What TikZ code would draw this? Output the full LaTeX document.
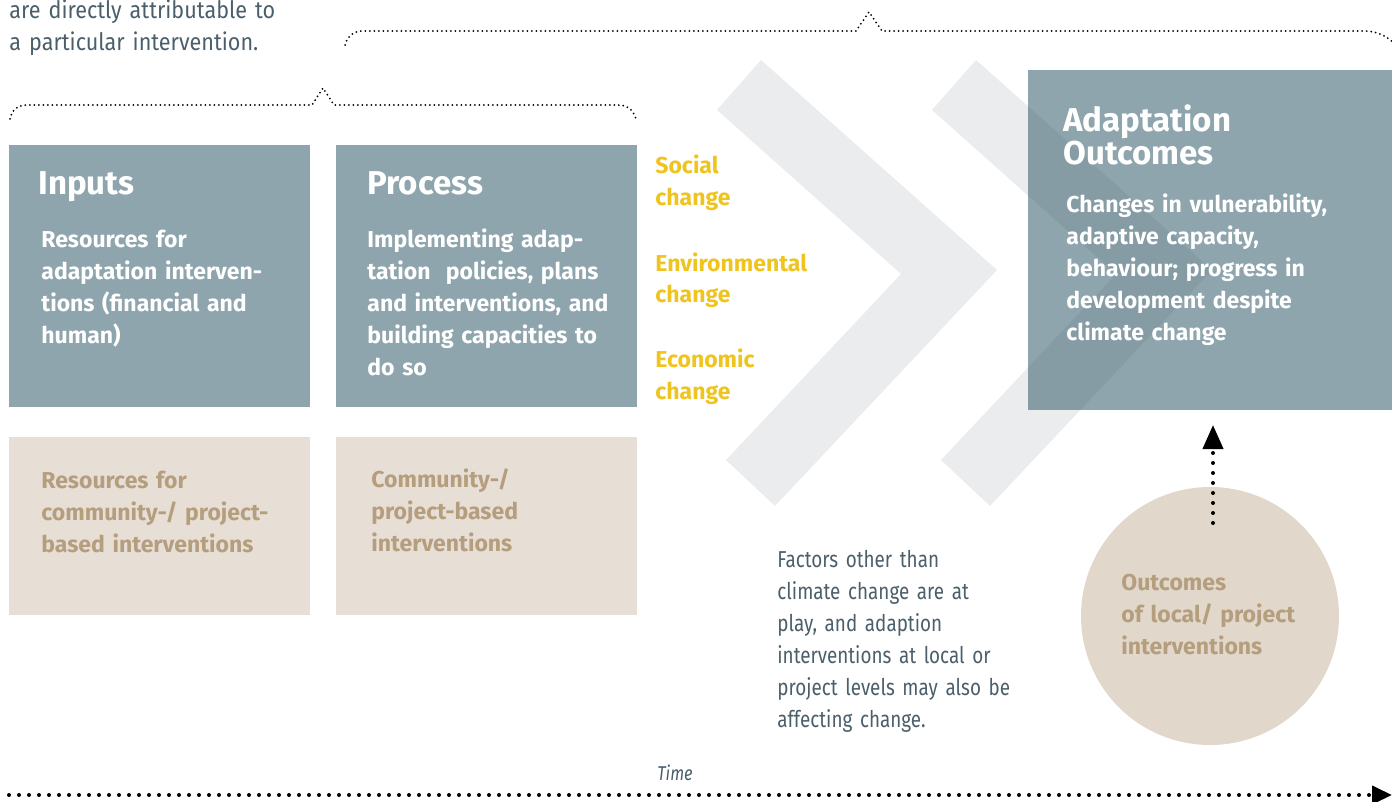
\documentclass[tikz,border=0pt]{standalone}
\usepackage{fontspec}
\setmainfont{Fira Sans}
\newfontfamily\notefont{Fira Sans}[FakeStretch=0.82]
\newfontfamily\attribfont{Fira Sans}[FakeStretch=0.9]
\usetikzlibrary{arrows.meta}

\definecolor{slate}{HTML}{4B5F6B}
\definecolor{boxgrey}{HTML}{8FA5AD}
\definecolor{boxdeep}{HTML}{335B6A}
\definecolor{sand}{HTML}{E7DFD6}
\definecolor{sandtext}{HTML}{B59E7E}
\definecolor{sandcircle}{HTML}{E1D7CB}
\definecolor{amber}{HTML}{EFC41E}
\definecolor{chevgrey}{HTML}{EBECEE}

\tikzset{
  greybox/.style={fill=boxgrey, inner sep=0pt, anchor=north west,
    minimum width=150.5pt, minimum height=131pt},
  sandbox/.style={fill=sand, inner sep=0pt, anchor=north west,
    minimum width=150.5pt, minimum height=89pt},
  boxhead/.style={anchor=base west, inner sep=0pt, text=white, align=left,
    text width=200pt, font=\fontsize{16.5}{14.5}\selectfont\bfseries},
  boxbody/.style={anchor=base west, inner sep=0pt, text=white, align=left,
    text width=220pt, font=\fontsize{11.5}{16}\selectfont\bfseries},
  sandbody/.style={boxbody, text=sandtext},
  changelabel/.style={boxbody, text=amber},
  note/.style={anchor=base west, inner sep=0pt, text=slate, align=left,
    text width=220pt, font=\notefont\fontsize{11.5}{16}\selectfont},
  smalldots/.style={line width=1pt, line cap=round, dash pattern=on 0pt off 2.25pt},
  bigdots/.style={line width=2pt, line cap=round, dash pattern=on 0pt off 5pt}
}

\begin{document}
\begin{tikzpicture}[x=0.5pt, y=-0.5pt]
  \useasboundingbox (0,0) rectangle (1392,802);

  % chevrons behind the outcome box
  \foreach \dx in {0,215}
    \fill[chevgrey] ({761+\dx},60) -- ({997+\dx},270) -- ({775+\dx},506)
      -- ({726+\dx},460) -- ({901+\dx},274) -- ({717+\dx},110) -- cycle;

  % boxes
  \node[greybox] (inputs) at (9,145) {};
  \node[greybox] (process) at (336,145) {};
  \node[sandbox] (inputslocal) at (9,437) {};
  \node[sandbox] (processlocal) at (336,437) {};
  \node[fill=boxdeep, fill opacity=0.55, inner sep=0pt, anchor=north west,
    minimum width=190pt, minimum height=170pt] (outcomes) at (1028,70) {};
  \node[circle, fill=sandcircle, inner sep=0pt, minimum size=129pt] (localout) at (1210,616) {};

  % texts
  \node[note, font=\attribfont\fontsize{12}{16}\selectfont] (attrib) at (9,19)
    {are directly attributable to\\a particular intervention.};
  \node[boxhead] (inputshead) at (38,195) {Inputs};
  \node[boxbody] (inputstext) at (41,248)
    {Resources for\\adaptation interven-\\tions (financial and\\human)};
  \node[boxhead] (processhead) at (367,195) {Process};
  \node[boxbody] (processtext) at (367,248)
    {Implementing adap-\\tation~ policies, plans\\and interventions, and\\building capacities to\\do so};
  \node[sandbody] (inputslocaltext) at (41,488)
    {Resources for\\community-/ project-\\based interventions};
  \node[sandbody] (processlocaltext) at (371,487)
    {Community-/\\project-based\\interventions};
  \node[changelabel] (social) at (655,174) {Social\\change};
  \node[changelabel] (environ) at (655,271) {Environmental\\change};
  \node[changelabel] (economic) at (655,367) {Economic\\change};
  \node[boxhead] (outcomeshead) at (1063,132) {Adaptation\\Outcomes};
  \node[boxbody] (outcomestext) at (1066,213)
    {Changes in vulnerability,\\adaptive capacity,\\behaviour; progress in\\development despite\\climate change};
  \node[note] (factors) at (777,567)
    {Factors other than\\climate change are at\\play, and adaption\\interventions at local or\\project levels may also be\\affecting change.};
  \node[sandbody] (localouttext) at (1121,590)
    {Outcomes\\of local/ project\\interventions};
  \node[anchor=base, inner sep=0pt, text=slate, font=\notefont\fontsize{10}{12}\selectfont\itshape] (time) at (675,780) {Time};

  % braces
  \draw[smalldots] (10,119) .. controls (12,109) and (18,105) .. (28,105)
    -- (312,105) -- (323,88) -- (334,105) -- (617,105)
    .. controls (627,105) and (633,109) .. (636,119);
  \draw[smalldots] (345,45) .. controls (348,35) and (354,31) .. (364,31)
    -- (856,31) -- (869,12) -- (882,31) -- (1362,31)
    .. controls (1375,31) and (1385,34) .. (1396,45);

  % arrows
  \coordinate (localtop) at (1213,523);
  \coordinate (outcomesfoot) at (1213,425);
  \draw[bigdots, -{Triangle[length=12pt, width=10pt]}] (localtop) -- (outcomesfoot);
  \coordinate (timestart) at (9,795);
  \coordinate (timeend) at (1392,795);
  \draw[bigdots, -{Triangle[length=10pt, width=9pt]}] (timestart) -- (timeend);
\end{tikzpicture}
\end{document}
